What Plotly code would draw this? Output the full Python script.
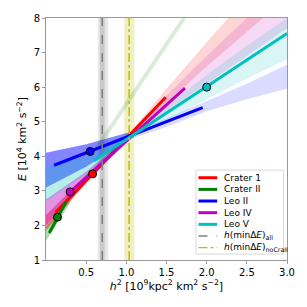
import plotly.graph_objects as go

# ---------------- data ----------------
names = ["Crater 1", "Crater II", "Leo II", "Leo IV", "Leo V"]
colors = ["#ff0000", "#008000", "#0000ff", "#bf00bf", "#00bfbf"]
rgb = ["255,0,0", "0,128,0", "0,0,255", "191,0,191", "0,191,191"]
alpha_left = [0.45, 0.30, 0.48, 0.42, 0.28]
alpha_right = [0.16, 0.20, 0.14, 0.15, 0.15]

# fitted lines (h^2 in 1e9 kpc^2 km^2 s^-2, E in 1e4 km^2 s^-2)
line_h2 = {
    "Crater 1": [0.12, 1.49],
    "Crater II": [0.04, 0.25],
    "Leo II": [0.10, 1.95],
    "Leo IV": [0.28, 1.73],
    "Leo V": [0.60, 3.00],
}
line_E = {
    "Crater 1": [2.37, 5.71],
    "Crater II": [1.78, 2.68],
    "Leo II": [3.74, 5.41],
    "Leo IV": [2.93, 5.97],
    "Leo V": [3.87, 7.55],
}

# observed points
pt_h2 = {"Crater 1": 0.58, "Crater II": 0.143, "Leo II": 0.55, "Leo IV": 0.30, "Leo V": 2.00}
pt_E = {"Crater 1": 3.49, "Crater II": 2.24, "Leo II": 4.14, "Leo IV": 2.97, "Leo V": 6.00}

# sample clouds: envelope of the scattered samples
cloud_h2 = [0.0, 0.5, 1.05, 1.5, 2.0, 2.5, 3.0]
cloud_lo = {
    "Crater 1": [1.85, 3.25, 4.55, 5.55, 6.60, 7.60, 8.60],
    "Leo II":   [3.10, 3.70, 4.50, 4.85, 5.30, 5.65, 5.95],
    "Leo IV":   [2.00, 3.30, 4.50, 5.30, 6.10, 6.90, 7.70],
    "Leo V":    [2.70, 3.50, 4.50, 5.05, 5.65, 6.25, 6.80],
}
cloud_hi = {
    "Crater 1": [2.30, 3.45, 4.70, 5.95, 7.30, 8.60, 9.90],
    "Leo II":   [4.10, 4.35, 4.70, 5.10, 5.60, 6.10, 6.65],
    "Leo IV":   [2.75, 3.55, 4.65, 5.75, 6.90, 8.00, 9.20],
    "Leo V":    [3.70, 4.00, 4.65, 5.45, 6.35, 7.20, 8.00],
}
craII_cloud_h2 = [0.0, 0.15, 0.30]
craII_cloud_lo = [1.55, 2.10, 2.65]
craII_cloud_hi = [1.95, 2.40, 2.95]

# faint extrapolated Crater II line
faint_h2 = [0.62, 1.72]
faint_E = [4.20, 8.00]

# vertical markers
h_all = 0.70
h_all_band = [0.645, 0.775]
h_all_band_in = [0.67, 0.73]
h_nocra = 1.035
h_nocra_band = [0.975, 1.10]

legend_labels = names + ["<i>h</i>(minΔ<i>E</i>)<sub>all</sub>",
                         "<i>h</i>(minΔ<i>E</i>)<sub>noCraII</sub>"]

xticks = [0.5, 1.0, 1.5, 2.0, 2.5, 3.0]
yticks = [1, 2, 3, 4, 5, 6, 7, 8]

# ---------------- figure ----------------
W = H = 307
ML, MR, MT, MB = 46, 16, 15, 47
PW, PH = W - ML - MR, H - MT - MB


def px(x):
    return (x - ML) / PW


def py(y):
    return (H - MB - y) / PH


fig = go.Figure()

# clouds: dense left half, sparse right half
for i, n in enumerate(names):
    if n in cloud_lo:
        hx, lo, hi = cloud_h2, cloud_lo[n], cloud_hi[n]
        parts = [(slice(0, 3), alpha_left[i]), (slice(2, 7), alpha_right[i])]
    else:
        hx, lo, hi = craII_cloud_h2, craII_cloud_lo, craII_cloud_hi
        parts = [(slice(0, 3), alpha_left[i])]
    for sl, a in parts:
        xs = hx[sl] + hx[sl][::-1]
        ys = lo[sl] + hi[sl][::-1]
        fig.add_trace(go.Scatter(x=xs, y=ys, fill="toself",
                                 fillcolor=f"rgba({rgb[i]},{a})",
                                 line=dict(width=0), mode="lines",
                                 showlegend=False, hoverinfo="skip"))

# faint line
fig.add_trace(go.Scatter(x=faint_h2, y=faint_E, mode="lines",
                         line=dict(color="rgba(0,128,0,0.15)", width=4),
                         showlegend=False, hoverinfo="skip"))

# vertical bands as shapes
fig.add_shape(type="rect", xref="x", yref="y", x0=h_all_band[0], x1=h_all_band[1],
              y0=1, y1=8, fillcolor="rgba(128,128,128,0.18)", line=dict(width=0), layer="below")
fig.add_shape(type="rect", xref="x", yref="y", x0=h_all_band_in[0], x1=h_all_band_in[1],
              y0=1, y1=8, fillcolor="rgba(128,128,128,0.30)", line=dict(width=0), layer="below")
fig.add_shape(type="rect", xref="x", yref="y", x0=h_nocra_band[0], x1=h_nocra_band[1],
              y0=1, y1=8, fillcolor="rgba(191,191,0,0.25)", line=dict(width=0), layer="below")

# fitted lines
for n, c in zip(names, colors):
    fig.add_trace(go.Scatter(x=line_h2[n], y=line_E[n], mode="lines",
                             line=dict(color=c, width=3), name=n, showlegend=False))

# vertical lines
fig.add_trace(go.Scatter(x=[h_all, h_all], y=[1, 8], mode="lines",
                         line=dict(color="#808080", width=1.5, dash="dash"),
                         showlegend=False))
fig.add_trace(go.Scatter(x=[h_nocra, h_nocra], y=[1, 8], mode="lines",
                         line=dict(color="#bfbf00", width=1.5, dash="dashdot"),
                         showlegend=False))

# observed points
for n, c in zip(names, colors):
    fig.add_trace(go.Scatter(x=[pt_h2[n]], y=[pt_E[n]], mode="markers",
                             marker=dict(color=c, size=8, line=dict(color="black", width=1)),
                             showlegend=False, hoverinfo="skip"))

# manual legend (matplotlib-like compact spacing)
fig.add_shape(type="rect", xref="paper", yref="paper",
              x0=px(198.5), x1=px(287.5), y0=py(254), y1=py(169),
              fillcolor="white", line=dict(color="#d9d9d9", width=1), layer="above")
leg_styles = [(c, 3, "solid") for c in colors] + [("#808080", 1.3, "dash"),
                                                  ("#bfbf00", 1.3, "dashdot")]
row0, step = 176.7, 11.8
for k, (lab, (c, w, d)) in enumerate(zip(legend_labels, leg_styles)):
    yc = row0 + k * step
    fig.add_shape(type="line", xref="paper", yref="paper",
                  x0=px(201), x1=px(220), y0=py(yc), y1=py(yc),
                  line=dict(color=c, width=w, dash=d), layer="above")
    fig.add_annotation(xref="paper", yref="paper", x=px(225), y=py(yc),
                       text=lab, showarrow=False, xanchor="left", yanchor="middle",
                       font=dict(size=9, color="black"))

axis_common = dict(showline=True, linecolor="#999999", linewidth=1, mirror=True,
                   ticks="outside", tickcolor="#999999", ticklen=3, showgrid=False,
                   zeroline=False, tickfont=dict(size=10, color="black"))

fig.update_layout(
    width=W, height=H,
    margin=dict(l=ML, r=MR, t=MT, b=MB),
    paper_bgcolor="white", plot_bgcolor="white",
    font=dict(family="DejaVu Sans", color="black"),
    xaxis=dict(range=[0, 3], tickvals=xticks, ticktext=[f"{v:.1f}" for v in xticks],
               title=dict(text="<i>h</i><sup>2</sup> [10<sup>9</sup>kpc<sup>2</sup> km<sup>2</sup> s<sup>−2</sup>]",
                          font=dict(size=11), standoff=2),
               **axis_common),
    yaxis=dict(range=[1, 8], tickvals=yticks,
               title=dict(text="<i>E</i> [10<sup>4</sup> km<sup>2</sup> s<sup>−2</sup>]",
                          font=dict(size=11), standoff=4),
               **axis_common),
    showlegend=False,
)

fig.write_html("out.html", config={"displayModeBar": False},
               post_script="document.body.style.margin='0';")
